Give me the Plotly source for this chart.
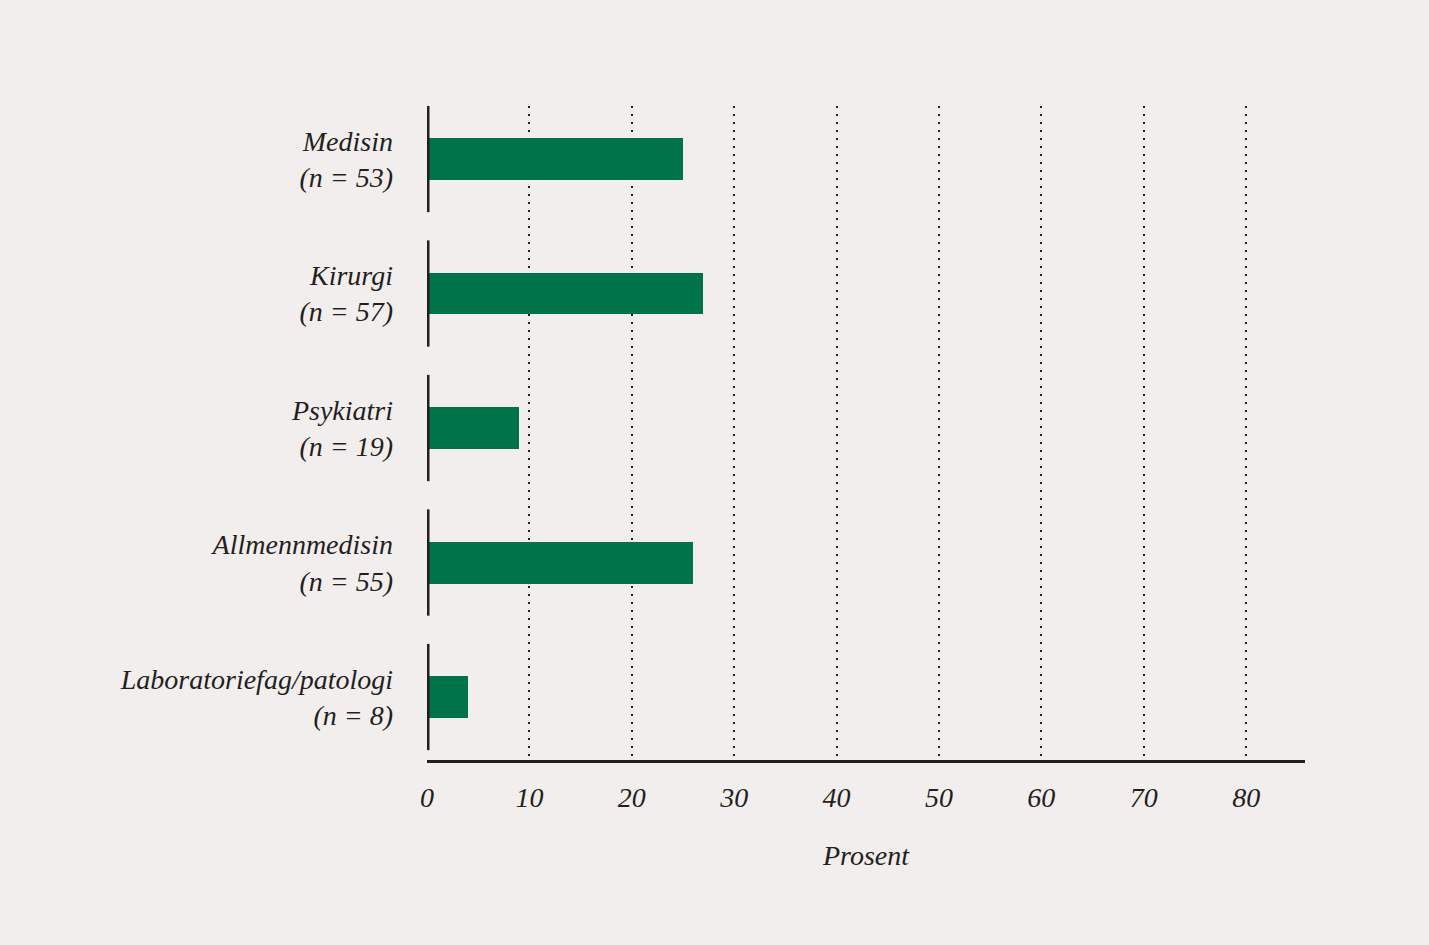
import plotly.graph_objects as go

categories = ["Medisin", "Kirurgi", "Psykiatri", "Allmennmedisin", "Laboratoriefag/patologi"]
n_values = [53, 57, 19, 55, 8]
percent = [25, 27, 9, 26, 4]
x_ticks = [0, 10, 20, 30, 40, 50, 60, 70, 80]

labels = [f"{c}<br>(n = {n})" for c, n in zip(categories, n_values)]

BG = "#f2eeed"
GREEN = "#00734a"
INK = "#231f20"
FONT = "Liberation Serif"
FS = 28

fig = go.Figure(
    go.Bar(
        x=percent,
        y=list(range(len(categories))),
        orientation="h",
        marker=dict(color=GREEN, line=dict(width=0)),
        width=0.312,
        hoverinfo="x",
    )
)

# segmented y-axis line, one piece per category (half is clipped by the plot area)
shapes = []
for i in range(len(categories)):
    shapes.append(dict(
        type="line", xref="x", yref="y",
        x0=0, x1=0, y0=i - 0.395, y1=i + 0.395,
        line=dict(color=INK, width=5), layer="above",
    ))

fig.update_layout(
    width=1429, height=945,
    paper_bgcolor=BG, plot_bgcolor=BG,
    margin=dict(l=427, r=124, t=106, b=185),
    showlegend=False,
    bargap=0,
    shapes=shapes,
    font=dict(family=FONT, size=FS, color=INK),
    xaxis=dict(
        range=[0, 85.75],
        tickvals=x_ticks,
        ticktext=[str(v) for v in x_ticks],
        tickfont=dict(family=FONT, size=FS, color=INK, style="italic"),
        showgrid=True,
        gridcolor=INK,
        gridwidth=1.6,
        griddash="2px,6px",
        showline=True,
        linecolor=INK,
        linewidth=2.5,
        zeroline=False,
        ticks="",
        ticklabelstandoff=11,
        title=dict(text="Prosent", font=dict(family=FONT, size=FS, color=INK, style="italic"), standoff=34),
        fixedrange=True,
    ),
    yaxis=dict(
        range=[4.468, -0.394],
        tickvals=list(range(len(categories))),
        ticktext=labels,
        tickfont=dict(family=FONT, size=FS, color=INK, style="italic"),
        showgrid=False,
        showline=False,
        zeroline=False,
        ticks="",
        ticklabelstandoff=33,
        fixedrange=True,
    ),
)

fig.write_html(
    "out.html",
    config={"displayModeBar": False},
    post_script=(
        "document.body.style.margin='0';"
        "document.body.style.background='" + BG + "';"
        "document.documentElement.style.overflow='hidden';"
    ),
)
